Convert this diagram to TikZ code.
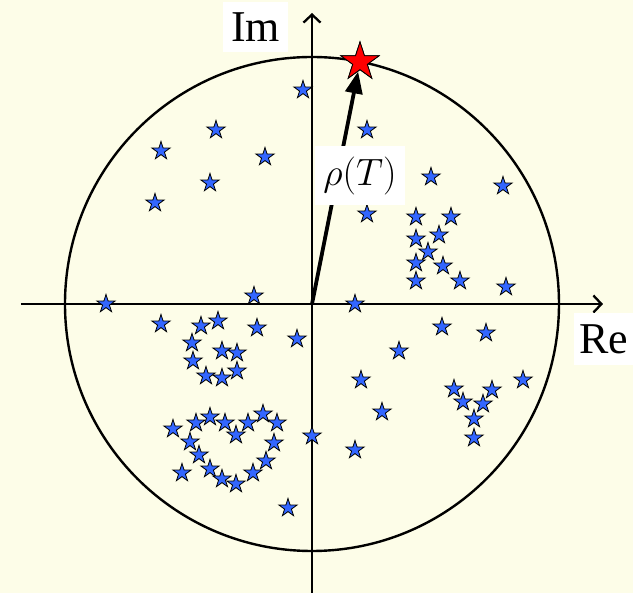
\documentclass[tikz,border=0pt]{standalone}
\usepackage[no-math]{fontspec}
\setmainfont{Liberation Serif}
\usepackage{amsmath}
\usepackage{xcolor}
\usetikzlibrary{arrows.meta,shapes.geometric}
\definecolor{paper}{HTML}{FDFDE8}
\definecolor{starblue}{HTML}{3366FF}
\definecolor{starred}{HTML}{FF0000}
\tikzset{
  axis/.style={line width=2.3pt, draw=black, -{Straight Barb[length=8pt,width=17pt]}},
  unitcircle/.style={line width=2.4pt, draw=black},
  radius/.style={line width=3.8pt, draw=black, -{Triangle[length=22pt,width=17pt]}},
  bluestar/.style={star, star points=5, star point ratio=2.618, draw=black,
                   line width=0.8pt, fill=starblue, minimum size=19pt, inner sep=0pt},
  redstar/.style={bluestar, fill=starred, minimum size=40pt},
  axislabel/.style={fill=white, inner sep=0pt, font=\fontsize{44}{48}\selectfont}
}

\begin{document}
\begin{tikzpicture}[x=1pt,y=1pt]
  \fill[paper] (-312,-289) rectangle (321,304);
  \useasboundingbox (-312,-289) rectangle (321,304);
  % plane and unit circle
  \coordinate (O) at (0,0);
  \coordinate (reL) at (-291,0);
  \coordinate (reR) at (291,0);
  \coordinate (imB) at (0,-289);
  \coordinate (imT) at (0,291);
  \draw[unitcircle] (O) circle (247);
  \draw[axis] (reL) -- (reR);
  \draw[axis] (imB) -- (imT);
  % eigenvalues
  \foreach \x/\y [count=\k] in {
      -9/214, -96/174, -151/153, -47/147, -102/121, -157/101, -58/8, -206/0,
      55/174, 119/127, 191/118, 55/90, 104/87, 139/87, 104/65, 127/69,
      116/52, 104/41, 131/38, 104/23, 148/23, 194/17, 43/0,
      -151/-20, -111/-22, -94/-17, -55/-24, -15/-35, -120/-39, -90/-47,
      -75/-49, -119/-57, -106/-72, -90/-74, -75/-67,
      -139/-125, -116/-119, -102/-113, -87/-119, -64/-119, -49/-110,
      -35/-119, -76/-131, -122/-138, -38/-139, -113/-151, -46/-157,
      -130/-169, -102/-165, -59/-169, -90/-175, -76/-180, 0/-132, -24/-204,
      130/-23, 174/-29, 87/-47, 49/-76, 211/-76, 142/-85, 180/-86,
      151/-98, 171/-100, 162/-115, 162/-134, 70/-108, 43/-146} {
    \node[bluestar] (s\k) at (\x,\y) {};
  }
  % spectral radius
  \node[redstar] (rs) at (48,242) {};
  \draw[radius] (O) -- (rs);
  \node[redstar] at (rs.center) {};
  \node[fill=white, inner sep=0pt, minimum width=59pt, minimum height=38.6pt,
        font=\Huge, scale=1.53] (rho) at (48,128.5) {$\rho(T)$};
  \node[axislabel, minimum width=65pt, minimum height=50pt] (im) at (-56.5,277) {Im};
  \node[axislabel, minimum width=60pt, minimum height=52pt] (re) at (292,-35) {Re};
\end{tikzpicture}
\end{document}
